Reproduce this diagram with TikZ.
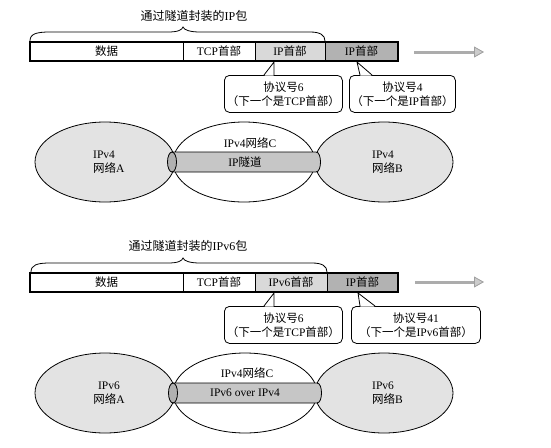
\documentclass[tikz,border=0pt]{standalone}
\usepackage{fontspec}
\setmainfont{Liberation Serif}
\newfontfamily\cjk{Noto Sans CJK SC}
\usetikzlibrary{shapes.geometric,arrows.meta,calc}
\newcommand\txtsize{\fontsize{11.5pt}{14pt}\selectfont}
\newcommand\ttlsize{\fontsize{12pt}{14pt}\selectfont}
\tikzset{
  seg/.style={draw,line width=0.8pt,minimum height=19pt,inner sep=0pt,outer sep=0pt,anchor=north west,font=\txtsize},
  outerbox/.style={line width=1.5pt},
  lightseg/.style={fill=gray!30},
  darkseg/.style={fill=gray!60},
  bracepath/.style={line width=0.8pt},
  ttl/.style={font=\ttlsize,inner sep=1pt},
  flow/.style={line width=3pt,draw=gray!65,-{Triangle[length=10pt,width=11pt,fill=gray!40,color=gray!75,line width=0.8pt]}},
  callout/.style={draw,line width=0.8pt,rounded corners=5pt,align=center,inner sep=0pt,minimum height=37pt,anchor=north west,font=\txtsize},
  pointer/.style={line width=0.8pt},
  net/.style={ellipse,draw,line width=0.8pt,inner sep=0pt,minimum width=140pt,minimum height=80pt},
  graynet/.style={net,fill=gray!22},
  whitenet/.style={net,fill=white},
  netlabel/.style={font=\txtsize,inner sep=0pt},
  tubebody/.style={draw,line width=0.8pt,fill=gray!45},
  tubecap/.style={draw,line width=0.8pt,fill=gray!62},
}
\begin{document}
\begin{tikzpicture}[x=1pt,y=-1pt]
\useasboundingbox (0,0) rectangle (551,447);

% ================= Row 1 =================
\node[ttl] (title1) at (194,16) {{\cjk 通过隧道封装的}IP{\cjk 包}};
\draw[bracepath] (30,41) .. controls (30,34) and (36,32) .. (50,32) -- (168,32)
   .. controls (178,32) and (182,30) .. (183,27)
   .. controls (184,30) and (190,32) .. (200,32) -- (310,32)
   .. controls (320,32) and (325,35) .. (325,41);

\node[seg,minimum width=153pt,fill=white] (d1) at (30,42) {{\cjk 数据}};
\node[seg,minimum width=72pt,fill=white] (t1) at (d1.north east) {TCP{\cjk 首部}};
\node[seg,minimum width=70pt,lightseg] (i1) at (t1.north east) {IP{\cjk 首部}};
\node[seg,minimum width=73pt,darkseg] (o1) at (i1.north east) {IP{\cjk 首部}};
\draw[outerbox] (d1.north west) rectangle (o1.south east);

\coordinate (a1s) at (414,52);
\coordinate (a1e) at (484,52);
\draw[flow] (a1s) -- (a1e);

\node[callout,minimum width=118pt] (c1) at (224,75) {{\cjk 协议号}6\\{\cjk （下一个是}TCP{\cjk 首部）}};
\coordinate (p1) at ($(i1.south west)+(19,1)$);
\fill[white] ($(c1.north west)+(40.5,0.7)$) -- (p1) -- ($(c1.north west)+(49.6,0.7)$) -- cycle;
\draw[pointer] ($(c1.north west)+(40,0)$) -- (p1) -- ($(c1.north west)+(50,0)$);

\node[callout,minimum width=106pt] (c2) at (349,75) {{\cjk 协议号}4\\{\cjk （下一个是}IP{\cjk 首部）}};
\coordinate (p2) at ($(o1.south west)+(32,1)$);
\fill[white] ($(c2.north west)+(11.4,0.7)$) -- (p2) -- ($(c2.north west)+(22.5,0.7)$) -- cycle;
\draw[pointer] ($(c2.north west)+(11,0)$) -- (p2) -- ($(c2.north west)+(23,0)$);

\node[graynet] (nA1) at (105,162) {};
\node[graynet,minimum width=138pt] (nB1) at (384,162) {};
\node[whitenet,minimum width=142pt] (nC1) at (244,162) {};
\node[netlabel,align=left,anchor=west] (lA1) at (93,162) {IPv4\\{\cjk 网络}A};
\node[netlabel,align=left,anchor=west] (lB1) at (372,162) {IPv4\\{\cjk 网络}B};
\node[netlabel] (lC1) at (250,143) {IPv4{\cjk 网络}C};
\draw[tubebody] (172,152) -- (316,152) .. controls (322,152) and (322,172) .. (316,172) -- (172,172) -- cycle;
\draw[tubecap] (172,162) ellipse [x radius=4.5pt,y radius=10pt];
\node[netlabel] (tun1) at (245,162) {IP{\cjk 隧道}};

% ================= Row 2 =================
\node[ttl] (title2) at (188,246) {{\cjk 通过隧道封装的}IPv6{\cjk 包}};
\draw[bracepath] (31,272) .. controls (31,265) and (37,263) .. (50,263) -- (168,263)
   .. controls (178,263) and (182,261) .. (183,258)
   .. controls (184,261) and (190,263) .. (200,263) -- (312,263)
   .. controls (322,263) and (327,266) .. (327,272);

\node[seg,minimum width=153pt,fill=white] (d2) at (30,273) {{\cjk 数据}};
\node[seg,minimum width=72pt,fill=white] (t2) at (d2.north east) {TCP{\cjk 首部}};
\node[seg,minimum width=72pt,lightseg] (i2) at (t2.north east) {IPv6{\cjk 首部}};
\node[seg,minimum width=71pt,darkseg] (o2) at (i2.north east) {IP{\cjk 首部}};
\draw[outerbox] (d2.north west) rectangle (o2.south east);

\coordinate (a2s) at (415,282);
\coordinate (a2e) at (484,282);
\draw[flow] (a2s) -- (a2e);

\node[callout,minimum width=118pt] (c3) at (224,306) {{\cjk 协议号}6\\{\cjk （下一个是}TCP{\cjk 首部）}};
\coordinate (p3) at ($(i2.south west)+(19,1)$);
\fill[white] ($(c3.north west)+(40.5,0.7)$) -- (p3) -- ($(c3.north west)+(49.6,0.7)$) -- cycle;
\draw[pointer] ($(c3.north west)+(40,0)$) -- (p3) -- ($(c3.north west)+(50,0)$);

\node[callout,minimum width=129pt] (c4) at (351,306) {{\cjk 协议号}41\\{\cjk （下一个是}IPv6{\cjk 首部）}};
\coordinate (p4) at ($(o2.south west)+(31,1)$);
\fill[white] ($(c4.north west)+(9.4,0.7)$) -- (p4) -- ($(c4.north west)+(23.5,0.7)$) -- cycle;
\draw[pointer] ($(c4.north west)+(9,0)$) -- (p4) -- ($(c4.north west)+(24,0)$);

\node[graynet] (nA2) at (105,393) {};
\node[graynet,minimum width=138pt] (nB2) at (384,393) {};
\node[whitenet,minimum width=144pt] (nC2) at (245,393) {};
\node[netlabel,align=center] (lA2) at (109,393) {IPv6\\{\cjk 网络}A};
\node[netlabel,align=left,anchor=west] (lB2) at (372,393) {IPv6\\{\cjk 网络}B};
\node[netlabel] (lC2) at (247,373) {IPv4{\cjk 网络}C};
\draw[tubebody] (173,383) -- (317,383) .. controls (323,383) and (323,403) .. (317,403) -- (173,403) -- cycle;
\draw[tubecap] (173,393) ellipse [x radius=4.5pt,y radius=10pt];
\node[netlabel] (tun2) at (245,393) {IPv6 over IPv4};
\end{tikzpicture}
\end{document}
